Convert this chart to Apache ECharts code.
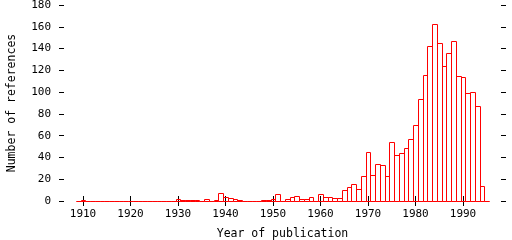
<!DOCTYPE html>
<html>
<head>
<meta charset="utf-8">
<script src="https://cdn.jsdelivr.net/npm/echarts@6/dist/echarts.min.js"></script>
<style>html,body{margin:0;padding:0;background:#fff}#c{width:512px;height:240px}</style>
</head>
<body>
<div id="c"></div>
<script>
const years = [];
for (let y = 1909; y <= 1995; y++) years.push(y);
const counts = [
  0, 1, 0, 0, 0, 0, 0, 0, 0, 0, 0,          // 1909-1919
  0, 0, 0, 0, 0, 0, 0, 0, 0, 0,             // 1920-1929
  2, 1, 1, 1, 1, 0, 2, 0, 1, 7,             // 1930-1939
  4, 3, 2, 1, 0, 0, 0, 0, 1, 1,             // 1940-1949
  2, 6, 0, 2, 4, 5, 2, 2, 4, 0,             // 1950-1959
  6, 4, 4, 3, 3, 10, 13, 16, 11, 23,        // 1960-1969
  45, 24, 34, 33, 23, 54, 42, 44, 49, 57,   // 1970-1979
  70, 94, 116, 142, 163, 145, 124, 136, 147, 115, // 1980-1989
  114, 99, 100, 87, 14, 0                   // 1990-1995
];
const xTicks = [1910, 1920, 1930, 1940, 1950, 1960, 1970, 1980, 1990];
const xTitle = 'Year of publication';
const yTitle = 'Number of references';

const font = 'DejaVu Sans Mono';
const chart = echarts.init(document.getElementById('c'));
const data = years.map((y, i) => [y, counts[i]]);

const tickStyle = { show: true, inside: false, length: 5, lineStyle: { color: '#000', width: 1 } };

chart.setOption({
  animation: false,
  grid: { left: 64, top: 5, width: 437, height: 196, containLabel: false, outerBoundsMode: 'none' },
  xAxis: [
    {
      type: 'value', min: 1906, max: 1998, position: 'bottom',
      axisLine: { show: false },
      axisTick: Object.assign({ customValues: xTicks }, tickStyle),
      axisLabel: { customValues: xTicks, formatter: v => String(v), color: '#000', fontFamily: font, fontSize: 11, margin: 8 },
      splitLine: { show: false },
      name: xTitle, nameLocation: 'middle', nameGap: 27,
      nameTextStyle: { color: '#000', fontFamily: font, fontSize: 11.5 }
    },
    {
      type: 'value', min: 1906, max: 1998, position: 'top',
      axisLine: { show: false },
      axisTick: Object.assign({ customValues: xTicks }, tickStyle),
      axisLabel: { show: false },
      splitLine: { show: false }
    }
  ],
  yAxis: [
    {
      type: 'value', min: 0, max: 180, interval: 20, position: 'left',
      axisLine: { show: false },
      axisTick: tickStyle,
      axisLabel: { color: '#000', fontFamily: font, fontSize: 11, margin: 13 },
      splitLine: { show: false },
      name: yTitle, nameLocation: 'middle', nameGap: 46,
      nameTextStyle: { color: '#000', fontFamily: font, fontSize: 11.5 }
    },
    {
      type: 'value', min: 0, max: 180, interval: 20, position: 'right',
      axisLine: { show: false },
      axisTick: tickStyle,
      axisLabel: { show: false },
      splitLine: { show: false }
    }
  ],
  series: [{
    type: 'custom',
    xAxisIndex: 0, yAxisIndex: 0,
    clip: false,
    itemStyle: { color: '#ff0000', borderColor: '#ff0000' },
    data: data,
    renderItem: function (params, api) {
      const yr = api.value(0), v = api.value(1);
      const p0 = api.coord([yr - 0.5, 0]);
      const p1 = api.coord([yr + 0.5, v]);
      const x0 = Math.round(p0[0]) + 0.5, x1 = Math.round(p1[0]) + 0.5;
      const yb = Math.round(p0[1]) + 0.5, yt = Math.round(p1[1]) + 0.5;
      return {
        type: 'rect',
        shape: { x: x0, y: yt, width: x1 - x0, height: yb - yt },
        style: { fill: 'rgba(0,0,0,0)', stroke: '#ff0000', lineWidth: 1 }
      };
    }
  }]
});
</script>
</body>
</html>
